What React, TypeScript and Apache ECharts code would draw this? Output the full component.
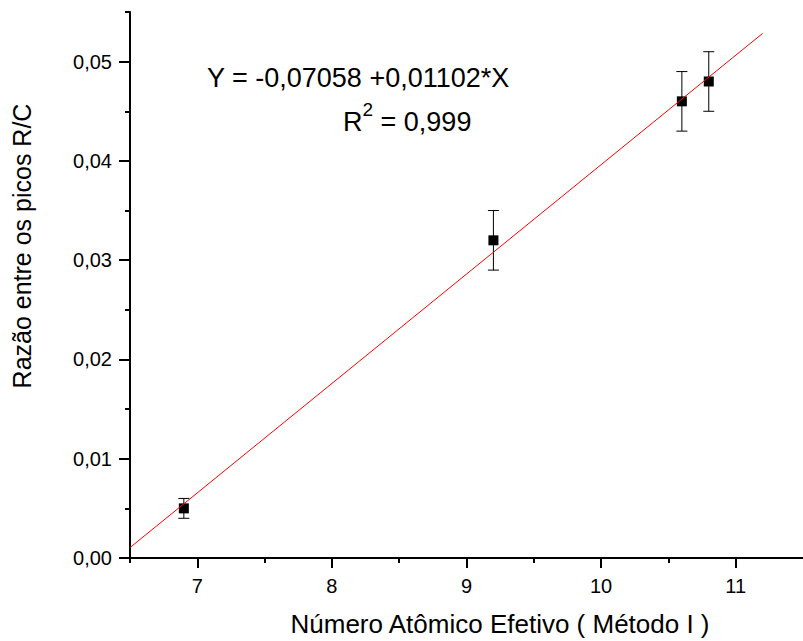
import React, { useEffect, useRef } from "react";
import * as echarts from "echarts";

const xValues = [6.9, 9.2, 10.6, 10.8];
const yValues = [0.005, 0.032, 0.046, 0.048];
const yErrors = [0.001, 0.003, 0.003, 0.003];
const fitIntercept = -0.07058;
const fitSlope = 0.01102;
const fitRange = [6.5, 11.2];
const xMajorTicks = [7, 8, 9, 10, 11];
const xMinorTicks = [6.5, 7.5, 8.5, 9.5, 10.5];
const yMajorTicks = [0, 0.01, 0.02, 0.03, 0.04, 0.05];
const yMinorTicks = [0.005, 0.015, 0.025, 0.035, 0.045, 0.055];
const equationText = "Y = -0,07058 +0,01102*X";
const r2Value = "0,999";
const xTitle = "Número Atômico Efetivo ( Método I )";
const yTitle = "Razão entre os picos R/C";

const FONT = "'Liberation Sans', Arial, sans-serif";

export default function App() {
  const ref = useRef<HTMLDivElement>(null);
  useEffect(() => {
    if (!ref.current) return;
    const chart = echarts.init(ref.current, undefined, { renderer: "svg" });
    const axisCommon = {
      type: "value" as const,
      splitLine: { show: false },
    };
    const option: any = {
      animation: false,
      backgroundColor: "#ffffff",
      textStyle: { fontFamily: FONT },
      grid: { left: 130, top: 12, right: -1.5, bottom: 83, containLabel: false },
      xAxis: [
        {
          ...axisCommon,
          min: 6.5,
          max: 11.5,
          position: "bottom",
          axisLine: { show: true, onZero: false, lineStyle: { color: "#000", width: 2 } },
          axisTick: { show: true, customValues: xMajorTicks, length: 10, lineStyle: { color: "#000", width: 2 } },
          axisLabel: {
            show: true,
            customValues: xMajorTicks,
            margin: 18,
            fontSize: 20,
            color: "#000",
            fontFamily: FONT,
            formatter: (v: number) => String(v),
          },
        },
        {
          ...axisCommon,
          min: 6.5,
          max: 11.5,
          position: "bottom",
          axisLine: { show: false, onZero: false },
          axisTick: { show: true, customValues: xMinorTicks, length: 5, lineStyle: { color: "#000", width: 2 } },
          axisLabel: { show: false },
        },
      ],
      yAxis: [
        {
          ...axisCommon,
          min: 0,
          max: 0.055,
          position: "left",
          axisLine: { show: true, onZero: false, lineStyle: { color: "#000", width: 2 } },
          axisTick: { show: true, customValues: yMajorTicks, length: 11, lineStyle: { color: "#000", width: 2 } },
          axisLabel: {
            show: true,
            customValues: yMajorTicks,
            margin: 18,
            fontSize: 20,
            color: "#000",
            fontFamily: FONT,
            formatter: (v: number) => v.toFixed(2).replace(".", ","),
          },
        },
        {
          ...axisCommon,
          min: 0,
          max: 0.055,
          position: "left",
          axisLine: { show: false, onZero: false },
          axisTick: { show: true, customValues: yMinorTicks, length: 5, lineStyle: { color: "#000", width: 2 } },
          axisLabel: { show: false },
        },
      ],
      series: [
        {
          type: "custom",
          xAxisIndex: 0,
          yAxisIndex: 0,
          z: 2,
          encode: { x: 0, y: [1, 2] },
          data: xValues.map((x, i) => [x, yValues[i] - yErrors[i], yValues[i] + yErrors[i]]),
          renderItem: (_params: any, api: any) => {
            const x = api.value(0);
            const lo = api.value(1);
            const hi = api.value(2);
            const top = api.coord([x, hi]);
            const bot = api.coord([x, lo]);
            const hw = 5.5;
            const style = { stroke: "#000", lineWidth: 1 };
            return {
              type: "group",
              children: [
                { type: "line", shape: { x1: top[0], y1: top[1], x2: bot[0], y2: bot[1] }, style },
                { type: "line", shape: { x1: top[0] - hw, y1: top[1], x2: top[0] + hw, y2: top[1] }, style },
                { type: "line", shape: { x1: bot[0] - hw, y1: bot[1], x2: bot[0] + hw, y2: bot[1] }, style },
              ],
            };
          },
        },
        {
          type: "scatter",
          xAxisIndex: 0,
          yAxisIndex: 0,
          z: 3,
          symbol: "rect",
          symbolSize: 10,
          itemStyle: { color: "#000", opacity: 1 },
          data: xValues.map((x, i) => [x, yValues[i]]),
        },
        {
          type: "line",
          xAxisIndex: 0,
          yAxisIndex: 0,
          z: 4,
          showSymbol: false,
          symbol: "none",
          lineStyle: { color: "#ff0000", width: 1 },
          data: fitRange.map((x) => [x, fitIntercept + fitSlope * x]),
        },
      ],
      graphic: [
        {
          type: "text",
          x: 207,
          y: 78,
          style: {
            text: equationText,
            fontSize: 27,
            fontFamily: FONT,
            fill: "#000",
            align: "left",
            verticalAlign: "middle",
          },
        },
        {
          type: "text",
          x: 343,
          y: 108,
          style: {
            text: "{r|R}{s|2}{r| = " + r2Value + "}",
            fontFamily: FONT,
            fill: "#000",
            align: "left",
            verticalAlign: "top",
            rich: {
              r: { fontSize: 27, fontFamily: FONT, fill: "#000", verticalAlign: "bottom", lineHeight: 27 },
              s: { fontSize: 19, fontFamily: FONT, fill: "#000", verticalAlign: "bottom", lineHeight: 19, padding: [0, 0, 16, 0] },
            },
          },
        },
        {
          type: "text",
          x: 500,
          y: 624,
          style: {
            text: xTitle,
            fontSize: 26,
            fontFamily: FONT,
            fill: "#000",
            align: "center",
            verticalAlign: "middle",
          },
        },
        {
          type: "text",
          x: 22,
          y: 246,
          rotation: Math.PI / 2,
          style: {
            text: yTitle,
            fontSize: 25,
            fontFamily: FONT,
            fill: "#000",
            align: "center",
            verticalAlign: "middle",
          },
        },
      ],
    };
    chart.setOption(option);
    return () => chart.dispose();
  }, []);
  return (
    <div
      ref={ref}
      style={{ position: "fixed", left: 0, top: 0, width: 803, height: 641, background: "#fff" }}
    />
  );
}
